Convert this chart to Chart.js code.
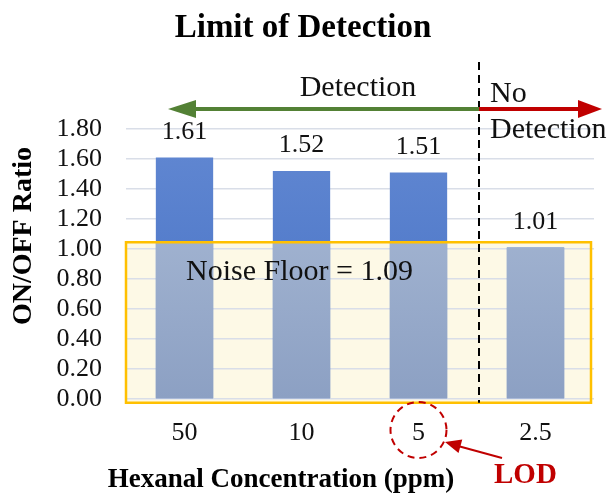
<!DOCTYPE html>
<html lang="en">
<head>
  <meta charset="UTF-8">
  <title>Limit of Detection</title>
  <script src="https://cdn.jsdelivr.net/npm/chart.js"></script>
  <style>
    body { margin: 0; background: #ffffff; }
    #wrap { width: 610px; height: 494px; }
  </style>
</head>
<body>
  <div id="wrap"><canvas id="lodChart" width="610" height="494"></canvas></div>

  <script>
    // data
    const categories = ['50', '10', '5', '2.5'];
    const ratios = [1.61, 1.52, 1.51, 1.01];
    const ratioLabels = ['1.61', '1.52', '1.51', '1.01'];
    const noiseFloor = 1.09;
    const lodIndex = 2;

    const serif = "'Liberation Serif', 'Times New Roman', serif";
    const red = '#c00000';
    const green = '#538135';
    const boxTopValue = 1.045;
    const boxBottomValue = -0.025;

    function arrowHead(ctx, tipX, tipY, fromX, fromY, len, half, color) {
      const ang = Math.atan2(tipY - fromY, tipX - fromX);
      ctx.fillStyle = color;
      ctx.beginPath();
      ctx.moveTo(tipX, tipY);
      ctx.lineTo(tipX - len * Math.cos(ang) + half * Math.sin(ang), tipY - len * Math.sin(ang) - half * Math.cos(ang));
      ctx.lineTo(tipX - len * Math.cos(ang) - half * Math.sin(ang), tipY - len * Math.sin(ang) + half * Math.cos(ang));
      ctx.closePath();
      ctx.fill();
    }

    const annotations = {
      id: 'annotations',
      beforeDraw(chart) {
        const { ctx, chartArea, scales } = chart;
        const top = scales.y.getPixelForValue(boxTopValue);
        const bottom = scales.y.getPixelForValue(boxBottomValue);
        ctx.save();
        ctx.fillStyle = '#fdf9e6';
        ctx.fillRect(chartArea.left, top, chartArea.right - 3 - chartArea.left, bottom - top);
        ctx.restore();
      },
      afterDatasetsDraw(chart) {
        const { ctx, chartArea, scales } = chart;
        const x = scales.x, y = scales.y;
        const meta = chart.getDatasetMeta(0);
        const boxTop = y.getPixelForValue(boxTopValue);
        const boxBottom = y.getPixelForValue(boxBottomValue);
        const boxLeft = chartArea.left;
        const boxRight = chartArea.right - 3;
        ctx.save();

        // bars seen through the noise floor box
        const fade = ctx.createLinearGradient(0, boxTop, 0, y.getPixelForValue(0));
        fade.addColorStop(0, '#9fb1cf');
        fade.addColorStop(1, '#8ca0c3');
        ctx.fillStyle = fade;
        meta.data.forEach(bar => {
          const { x: bx, y: by, base, width } = bar.getProps(['x', 'y', 'base', 'width'], true);
          const top = Math.max(by, boxTop);
          ctx.fillRect(bx - width / 2, top, width, base - top);
        });

        ctx.strokeStyle = '#ffc000';
        ctx.lineWidth = 2.5;
        ctx.strokeRect(boxLeft, boxTop, boxRight - boxLeft, boxBottom - boxTop);

        ctx.fillStyle = '#111';
        ctx.font = '30px ' + serif;
        ctx.textAlign = 'left';
        ctx.textBaseline = 'alphabetic';
        ctx.fillText('Noise Floor = ' + noiseFloor.toFixed(2), boxLeft + 60, 280);

        // value labels
        ctx.font = '26px ' + serif;
        ctx.textAlign = 'center';
        meta.data.forEach((bar, i) => {
          ctx.fillText(ratioLabels[i], bar.x, bar.y - 19);
        });

        // detection boundary
        const splitX = (x.getPixelForValue(2) + x.getPixelForValue(3)) / 2 + 2;
        ctx.strokeStyle = '#000';
        ctx.lineWidth = 2;
        ctx.setLineDash([8, 5]);
        ctx.beginPath();
        ctx.moveTo(splitX, 62);
        ctx.lineTo(splitX, boxBottom);
        ctx.stroke();
        ctx.setLineDash([]);

        // arrows
        const arrowY = 109;
        ctx.lineWidth = 4;
        ctx.strokeStyle = green;
        ctx.beginPath();
        ctx.moveTo(splitX, arrowY);
        ctx.lineTo(188, arrowY);
        ctx.stroke();
        arrowHead(ctx, 168, arrowY, splitX, arrowY, 28, 9, green);
        ctx.strokeStyle = red;
        ctx.beginPath();
        ctx.moveTo(splitX, arrowY);
        ctx.lineTo(585, arrowY);
        ctx.stroke();
        arrowHead(ctx, 602, arrowY, splitX, arrowY, 24, 9, red);

        ctx.fillStyle = '#111';
        ctx.font = '30px ' + serif;
        ctx.textAlign = 'center';
        ctx.fillText('Detection', 358, 96);
        ctx.textAlign = 'left';
        ctx.fillText('No', splitX + 11, 102);
        ctx.fillText('Detection', splitX + 11, 138);

        // LOD marker
        const lodX = x.getPixelForValue(lodIndex);
        const lodY = 430;
        ctx.strokeStyle = red;
        ctx.lineWidth = 2;
        ctx.setLineDash([7, 5]);
        ctx.beginPath();
        ctx.arc(lodX, lodY, 28, 0, Math.PI * 2);
        ctx.stroke();
        ctx.setLineDash([]);
        ctx.beginPath();
        ctx.moveTo(502, 458);
        ctx.lineTo(458, 446);
        ctx.stroke();
        arrowHead(ctx, 445, 442, 502, 458, 16, 7, red);
        ctx.fillStyle = red;
        ctx.font = 'bold 29px ' + serif;
        ctx.textAlign = 'left';
        ctx.fillText('LOD', 494, 483);

        // titles
        ctx.fillStyle = '#000';
        ctx.font = 'bold 33px ' + serif;
        ctx.textAlign = 'center';
        ctx.fillText('Limit of Detection', 303, 37);
        ctx.font = 'bold 27px ' + serif;
        ctx.fillText('Hexanal Concentration (ppm)', 281, 487);
        ctx.translate(24, 236);
        ctx.rotate(-Math.PI / 2);
        ctx.font = 'bold 28px ' + serif;
        ctx.textBaseline = 'middle';
        ctx.fillText('ON/OFF Ratio', 0, 0);
        ctx.restore();
      }
    };

    const ctx = document.getElementById('lodChart').getContext('2d');
    new Chart(ctx, {
      type: 'bar',
      data: {
        labels: categories,
        datasets: [{
          label: 'ON/OFF Ratio',
          data: ratios,
          backgroundColor(context) {
            const area = context.chart.chartArea;
            if (!area) return '#4a76c8';
            const g = context.chart.ctx.createLinearGradient(0, area.top, 0, area.bottom);
            g.addColorStop(0, '#6288d2');
            g.addColorStop(1, '#4470c4');
            return g;
          },
          borderWidth: 0,
          categoryPercentage: 1,
          barPercentage: 0.49
        }]
      },
      options: {
        responsive: false,
        animation: false,
        layout: { padding: { top: 129, right: 16, left: 0, bottom: 0 } },
        plugins: {
          legend: { display: false },
          tooltip: { enabled: false }
        },
        scales: {
          x: {
            grid: { display: false, drawTicks: false },
            border: { display: false },
            ticks: { color: '#111', font: { family: serif, size: 26 }, padding: 19 },
            afterFit(scale) { scale.height = 95; }
          },
          y: {
            min: 0,
            max: 1.8,
            ticks: {
              stepSize: 0.2,
              autoSkip: false,
              color: '#111',
              font: { family: serif, size: 26 },
              padding: 24,
              callback: v => v.toFixed(2)
            },
            grid: { color: '#d9dee8', lineWidth: 1.5, drawTicks: false },
            border: { display: false },
            afterFit(scale) { scale.width = 126; }
          }
        }
      },
      plugins: [annotations]
    });
  </script>
</body>
</html>
